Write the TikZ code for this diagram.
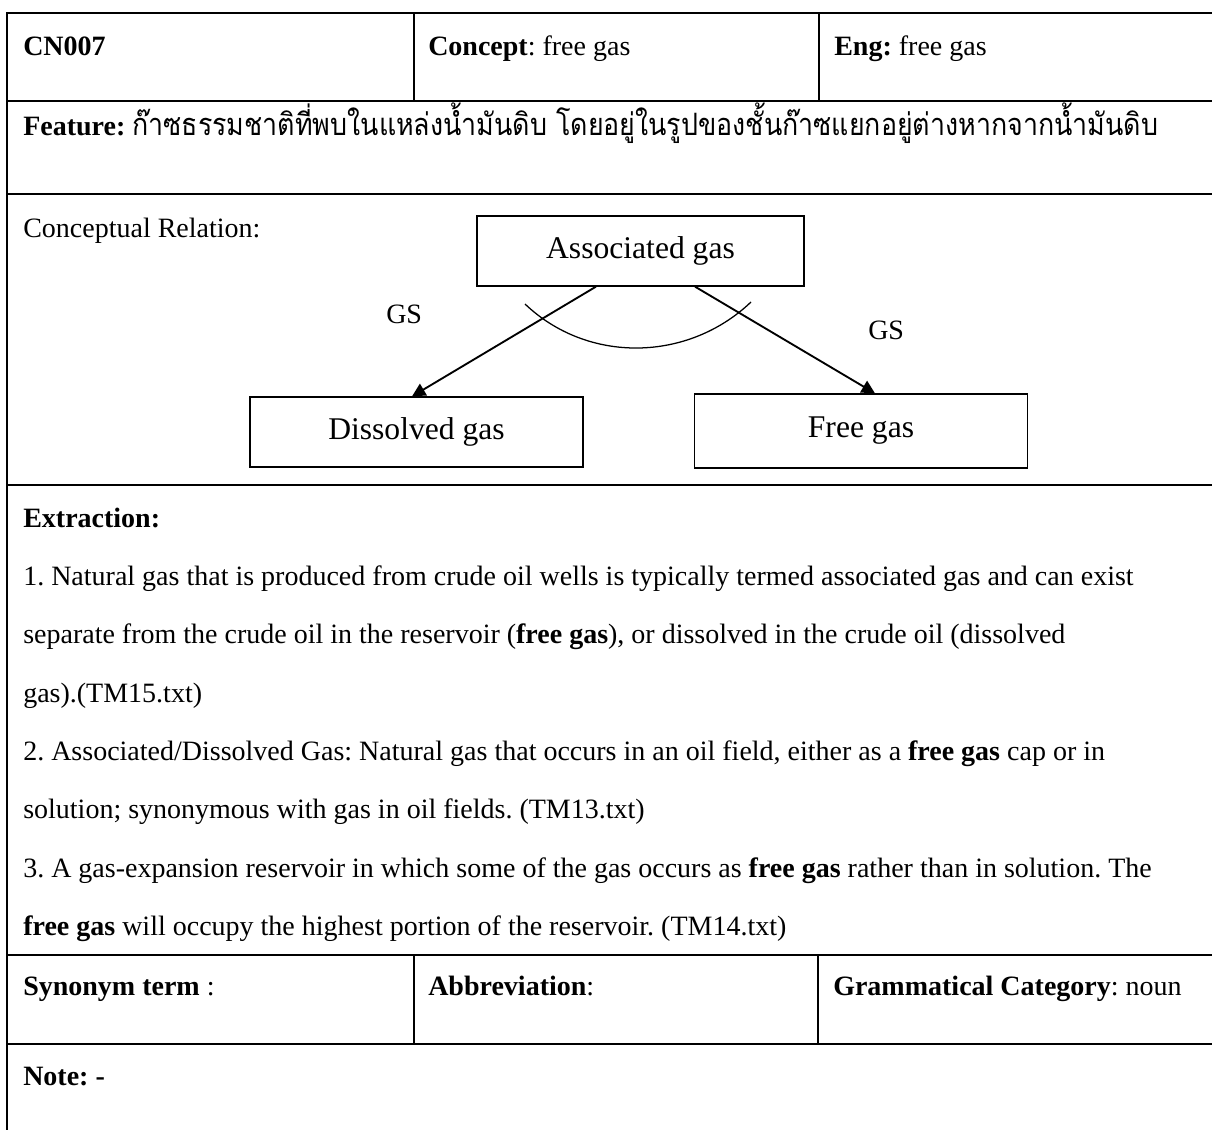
\documentclass[tikz,border=0pt]{standalone}
\usepackage{fontspec}
\setmainfont{Liberation Serif}
\newfontfamily\thaifont[Script=Thai,Scale=1.1,FakeStretch=0.87]{Loma}
\usetikzlibrary{arrows.meta,calc}
\frenchspacing
\begin{document}
\begin{tikzpicture}[x=0.75pt,y=-0.75pt,
  rule/.style={line width=1.4pt},
  cell/.style={anchor=base west,inner sep=0pt,font=\fontsize{21}{25}\selectfont},
  concept/.style={draw,line width=0.95pt,inner sep=0pt,font=\fontsize{23.7}{28}\selectfont},
  gsarrow/.style={-{Triangle[length=10pt,width=10pt]},line width=1.4pt}]
\useasboundingbox (0,0) rectangle (1212,1129);

% table frame and row rules
\draw[rule] (7,1130) -- (7,13) -- (1214,13);
\foreach \y in {101,194,485,955,1044}
  \draw[rule] (7,\y) -- (1214,\y);
% column dividers of the header and footer rows
\draw[rule] (414,13) -- (414,101);
\draw[rule] (819,13) -- (819,101);
\draw[rule] (414,955) -- (414,1044);
\draw[rule] (818,955) -- (818,1044);

% header row
\node[cell] (id) at (23,55) {\textbf{CN007}};
\node[cell] (concepttxt) at (428,55) {\textbf{Concept}: free gas};
\node[cell] (eng) at (834,55) {\textbf{Eng:} free gas};

% feature row
\node[cell] (feature) at (23,135) {\textbf{Feature:} {\thaifont ก๊าซธรรมชาติที่พบในแหล่งน้ำมันดิบ โดยอยู่ในรูปของชั้นก๊าซแยกอยู่ต่างหากจากน้ำมันดิบ}};

% conceptual relation
\node[cell] (relation) at (23,237) {Conceptual Relation:};
\node[concept,minimum width=245.25pt,minimum height=52.5pt] (assoc) at (640.5,251) {Associated gas};
\node[concept,minimum width=249.75pt,minimum height=52.5pt] (diss) at (416.5,432) {Dissolved gas};
\node[concept,minimum width=249.75pt,minimum height=55.5pt] (free) at (861,431) {Free gas};
\draw[gsarrow] ($(assoc.south)+(-44.5,0)$) -- ($(diss.north)+(-4.5,0)$);
\draw[gsarrow] ($(assoc.south)+(54.5,0)$) -- ($(free.north)+(14,0)$);
\draw[line width=0.95pt] (525,304) .. controls (588,364) and (688,362) .. (751,302);
\node[cell] (gsleft) at (386,323) {GS};
\node[cell] (gsright) at (868,339) {GS};

% extraction
\node[cell] (ex0) at (23,527) {\textbf{Extraction:}};
\node[cell] (ex1) at (23,585) {1. Natural gas that is produced from crude oil wells is typically termed associated gas and can exist};
\node[cell] (ex2) at (23,643) {separate from the crude oil in the reservoir (\textbf{free gas}), or dissolved in the crude oil (dissolved};
\node[cell] (ex3) at (23,702) {gas).(TM15.txt)};
\node[cell] (ex4) at (23,760) {2. Associated/Dissolved Gas: Natural gas that occurs in an oil field, either as a \textbf{free gas} cap or in};
\node[cell] (ex5) at (23,818) {solution; synonymous with gas in oil fields. (TM13.txt)};
\node[cell] (ex6) at (23,877) {3. A gas-expansion reservoir in which some of the gas occurs as \textbf{free gas} rather than in solution. The};
\node[cell] (ex7) at (23,935) {\textbf{free gas} will occupy the highest portion of the reservoir. (TM14.txt)};

% footer rows
\node[cell] (syn) at (23,995) {\textbf{Synonym term} :};
\node[cell] (abbr) at (428,995) {\textbf{Abbreviation}:};
\node[cell] (gram) at (833,995) {\textbf{Grammatical Category}: noun};
\node[cell] (note) at (23,1085) {\textbf{Note: -}};
\end{tikzpicture}
\end{document}
